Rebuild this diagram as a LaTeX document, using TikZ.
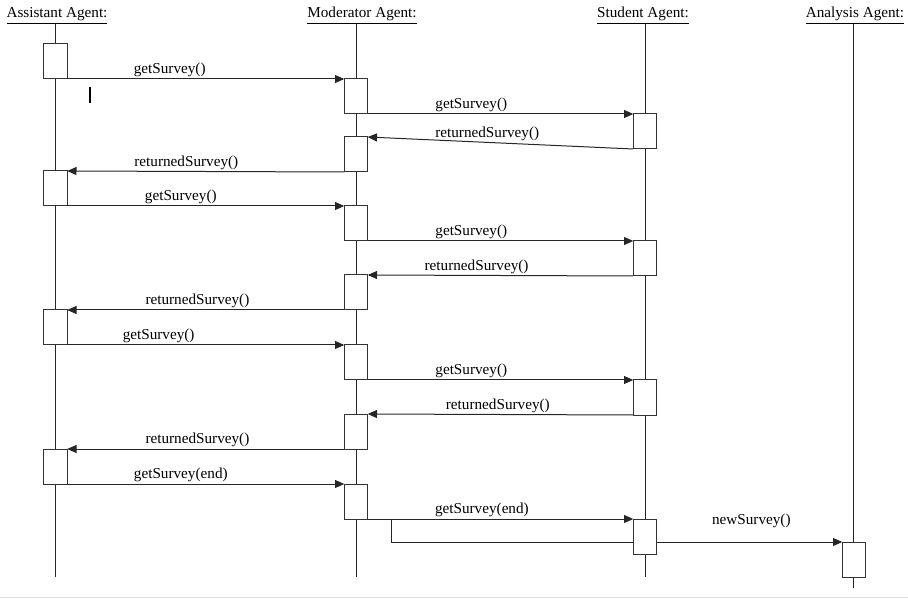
\documentclass[tikz,border=0pt]{standalone}
\usepackage{fontspec}
\setmainfont{Liberation Serif}
\usetikzlibrary{arrows.meta,positioning}
\tikzstyle{agent} = [inner sep=0pt, anchor=base, font=\fontsize{11.4}{13.7}\selectfont]
\tikzstyle{activation} = [rectangle, minimum width=17.5pt, minimum height=26.25pt, inner sep=0pt, outer sep=0pt, anchor=north, draw=black!80, fill=white, line width=0.75pt]
\tikzstyle{lifeline} = [draw=black!85, line width=0.75pt]
\tikzstyle{message} = [draw=black!85, line width=0.75pt, -{Triangle[length=7pt,width=6pt]}]
\tikzstyle{msglabel} = [above, inner sep=1pt, text=black, font=\fontsize{11.4}{13.7}\selectfont]

\begin{document}
\begin{tikzpicture}[x=0.75pt, y=-0.75pt]
        \useasboundingbox (0,0) rectangle (908,599);

        % Agents
        \node (assistant) [agent] at (57,18) {\underline{Assistant Agent:}};
        \node (moderator) [agent] at (362,18) {\underline{Moderator Agent:}};
        \node (student) [agent] at (643,18) {\underline{Student Agent:}};
        \node (analysis) [agent] at (855,18) {\underline{Analysis Agent:}};

        \coordinate (assistantEnd) at (55,577);
        \coordinate (moderatorEnd) at (356,577);
        \coordinate (studentEnd) at (645,577);
        \coordinate (analysisEnd) at (853,588);

        \draw [lifeline] (assistant.south -| assistantEnd) -- (assistantEnd);
        \draw [lifeline] (moderator.south -| moderatorEnd) -- (moderatorEnd);
        \draw [lifeline] (student.south -| studentEnd) -- (studentEnd);
        \draw [lifeline] (analysis.south -| analysisEnd) -- (analysisEnd);

        % Activations
        \node (asst1) [activation] at (55.5,44) {};
        \node (asst2) [activation] at (55.5,171) {};
        \node (asst3) [activation] at (55.5,310) {};
        \node (asst4) [activation] at (55.5,449) {};

        \node (mod1) [activation] at (356,79) {};
        \node (mod2) [activation] at (356,137) {};
        \node (mod3) [activation] at (356,206) {};
        \node (mod4) [activation] at (356,275) {};
        \node (mod5) [activation] at (356,345) {};
        \node (mod6) [activation] at (356,414) {};
        \node (mod7) [activation] at (356,484) {};

        \node (stud1) [activation] at (645,114) {};
        \node (stud2) [activation] at (645,241) {};
        \node (stud3) [activation] at (645,380) {};
        \node (stud4) [activation] at (645,519) {};

        \node (anal1) [activation] at (854,542) {};

        % Messages
        \draw [message] (asst1.south east) -- (mod1.north west) node[msglabel, pos=0.37]{getSurvey()};
        \draw [message] (mod1.south east) -- (stud1.north west) node[msglabel, pos=0.39]{getSurvey()};
        \draw [message] (stud1.south west) -- (mod2.north east) node[msglabel, pos=0.55]{returnedSurvey()};
        \draw [message] (mod2.south west) -- (asst2.north east) node[msglabel, pos=0.57]{returnedSurvey()};

        \draw [message] (asst2.south east) -- (mod3.north west) node[msglabel, pos=0.41]{getSurvey()};
        \draw [message] (mod3.south east) -- (stud2.north west) node[msglabel, pos=0.39]{getSurvey()};
        \draw [message] (stud2.south west) -- (mod4.north east) node[msglabel, pos=0.59]{returnedSurvey()};
        \draw [message] (mod4.south west) -- (asst3.north east) node[msglabel, pos=0.53]{returnedSurvey()};

        \draw [message] (asst3.south east) -- (mod5.north west) node[msglabel, pos=0.33]{getSurvey()};
        \draw [message] (mod5.south east) -- (stud3.north west) node[msglabel, pos=0.39]{getSurvey()};
        \draw [message] (stud3.south west) -- (mod6.north east) node[msglabel, pos=0.51]{returnedSurvey()};
        \draw [message] (mod6.south west) -- (asst4.north east) node[msglabel, pos=0.53]{returnedSurvey()};

        \draw [message] (asst4.south east) -- (mod7.north west) node[msglabel, pos=0.41]{getSurvey(end)};
        \draw [message] (mod7.south east) -- (stud4.north west) node[msglabel, pos=0.43]{getSurvey(end)};

        \coordinate (fork) at (391,519);
        \draw [lifeline] (fork) |- (stud4.west |- anal1.north);
        \draw [message] (stud4.east |- anal1.north) -- (anal1.north west) node[msglabel, pos=0.51, yshift=9pt]{newSurvey()};

        % cursor and bottom edge
        \draw [line width=1.5pt] (89.5,87) -- (89.5,103);
        \draw [black!12] (0,597) -- (908,597);

\end{tikzpicture}
\end{document}
